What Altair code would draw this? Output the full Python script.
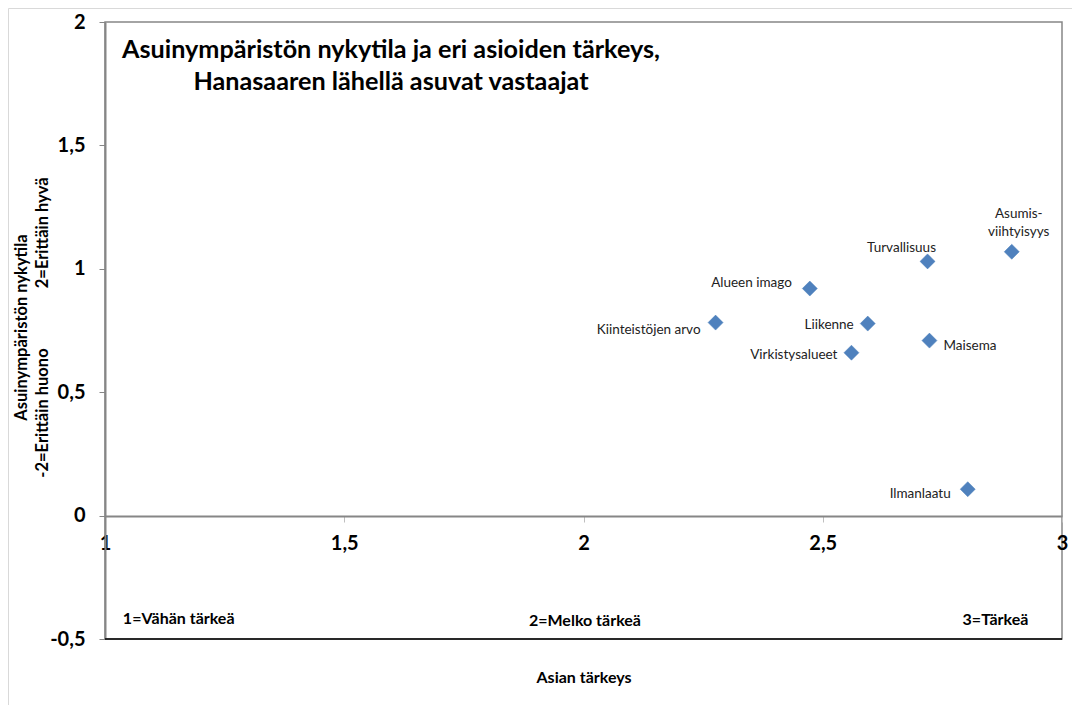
import altair as alt
import pandas as pd

# ---- data ----
names = ["Asumis-\nviihtyisyys", "Turvallisuus", "Alueen imago", "Kiinteistöjen arvo",
         "Liikenne", "Virkistysalueet", "Maisema", "Ilmanlaatu"]
importance = [2.895, 2.719, 2.473, 2.276, 2.594, 2.560, 2.723, 2.803]
condition = [1.069, 1.030, 0.920, 0.782, 0.778, 0.660, 0.709, 0.107]

note_labels = ["1=Vähän tärkeä", "2=Melko tärkeä", "3=Tärkeä"]
note_x = [1.154, 2.003, 2.861]
note_y = [-0.419, -0.428, -0.423]

x_ticks = [1, 1.5, 2, 2.5, 3]
y_ticks = [-0.5, 0, 0.5, 1, 1.5, 2]

title_lines = ["Asuinympäristön nykytila ja eri asioiden tärkeys,",
               "Hanasaaren lähellä asuvat vastaajat"]
y_title_lines = ["Asuinympäristön nykytila",
                 "-2=Erittäin huono" + "\u00a0" * 15 + "2=Erittäin hyvä"]
x_title = "Asian tärkeys"

# ---- styling ----
W, H = 957, 617
FONT = "Lato"
label_expr = "replace(datum.value + '', '.', ',')"

# per-label placement (align, dx, dy)
label_style = {
    "Asumis-\nviihtyisyys": ("center", 7, -38),
    "Turvallisuus": ("center", -26, -13),
    "Alueen imago": ("right", -18, -6),
    "Kiinteistöjen arvo": ("right", -15, 7),
    "Liikenne": ("right", -14, 1),
    "Virkistysalueet": ("right", -14, 2),
    "Maisema": ("left", 14, 5),
    "Ilmanlaatu": ("right", -17, 5),
}

df = pd.DataFrame({"name": names, "x": importance, "y": condition})
notes = pd.DataFrame({"name": note_labels, "x": note_x, "y": note_y})

x_enc = alt.X(
    "x:Q",
    scale=alt.Scale(domain=[1, 3], nice=False, zero=False),
    axis=alt.Axis(
        values=x_ticks, title=x_title, offset=-123, grid=False,
        domainColor="#868686", domainWidth=2,
        tickColor="#bfbfbf", tickSize=6, tickWidth=1,
        labelFont=FONT, labelFontSize=20, labelFontWeight="bold", labelColor="black",
        labelPadding=11, labelBaseline="top", labelFlush=False, labelOverlap=False,
        labelExpr=label_expr,
        titleFont=FONT, titleFontSize=16, titleFontWeight="bold", titleColor="black",
        titleX=W / 2, titleY=161, titleBaseline="middle", titleAlign="center",
    ),
)
y_enc = alt.Y(
    "y:Q",
    scale=alt.Scale(domain=[-0.5, 2], nice=False, zero=False),
    axis=alt.Axis(
        values=y_ticks, title=y_title_lines, grid=False,
        domainColor="#868686", domainWidth=2,
        tickColor="#868686", tickSize=6, tickWidth=1,
        labelFont=FONT, labelFontSize=20, labelFontWeight="bold", labelColor="black",
        labelPadding=14, labelOverlap=False, labelFlush=False,
        labelExpr=label_expr,
        titleFont=FONT, titleFontSize=16.5, titleFontWeight="bold", titleColor="black",
        titleX=-84, titleY=305, titleAngle=270, titleBaseline="middle",
        titleAlign="center", titleLineHeight=21,
    ),
)

border = alt.Chart(pd.DataFrame({"k": [0]})).mark_rect(
    fillOpacity=0, stroke="#d9d9d9", strokeWidth=1
).encode(
    x=alt.value(-96.5), x2=alt.value(W + 200),
    y=alt.value(-13.5), y2=alt.value(H + 200),
)

bottom_line = alt.Chart(pd.DataFrame({"k": [0]})).mark_rule(
    color="black", strokeWidth=1.5
).encode(x=alt.value(0), x2=alt.value(W), y=alt.value(H))

points = alt.Chart(df).mark_point(
    shape="diamond", filled=True, fill="#4F81BD", stroke="#4A7EBB",
    strokeWidth=0.5, size=225, opacity=1
).encode(x=x_enc, y=y_enc)

label_layers = []
for n, (al, dx, dy) in label_style.items():
    sub = df[df["name"] == n]
    label_layers.append(
        alt.Chart(sub).mark_text(
            font=FONT, fontSize=13.5, color="#222222", align=al, baseline="middle",
            dx=dx, dy=dy, lineBreak="\n", lineHeight=18
        ).encode(x=x_enc, y=y_enc, text="name:N")
    )

note_layer = alt.Chart(notes).mark_text(
    font=FONT, fontSize=16, fontWeight="bold", color="black",
    align="center", baseline="middle"
).encode(x=x_enc, y=y_enc, text="name:N")

chart = alt.layer(border, bottom_line, points, *label_layers, note_layer).properties(
    width=W, height=H,
    autosize=alt.AutoSizeParams(type="none"),
    padding={"left": 97, "top": 14, "right": 10, "bottom": 66},
    title=alt.TitleParams(
        text=title_lines, anchor="start", align="center", baseline="top",
        dx=286, offset=-87, font=FONT, fontSize=25.2, fontWeight="bold",
        color="black", lineHeight=32, frame="group",
    ),
).configure_view(stroke="#868686", strokeWidth=1.5)

chart.save("out.html", embed_options={"renderer": "svg", "actions": False})
